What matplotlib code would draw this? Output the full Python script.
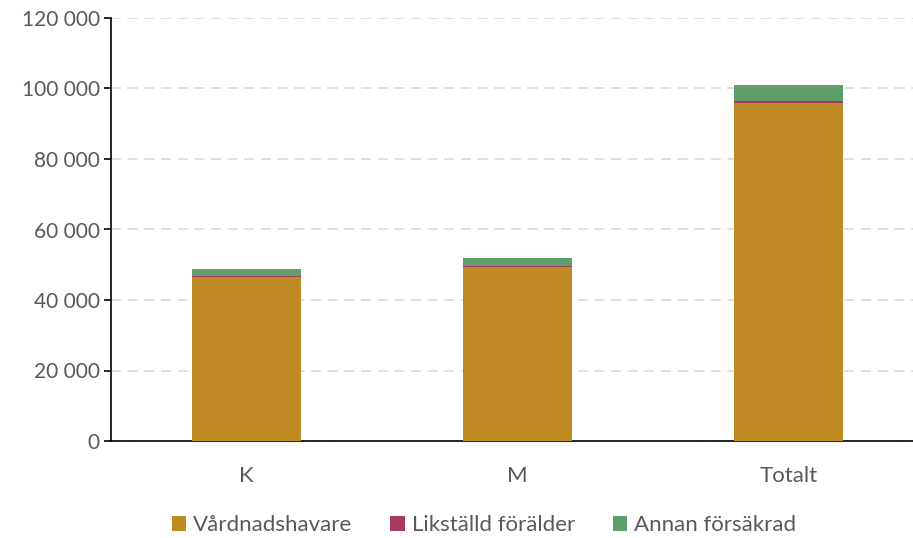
import matplotlib
matplotlib.use("Agg")
import matplotlib.pyplot as plt
from matplotlib.ticker import FuncFormatter

categories = ["K", "M", "Totalt"]
series_names = ["Vårdnadshavare", "Likställd förälder", "Annan försäkrad"]
vardnadshavare = [46600, 49400, 96000]
likstalld = [200, 300, 500]
annan = [2000, 2100, 4400]
colors = ["#BF8A24", "#A8385F", "#5E9E6B"]

plt.rcParams['font.family'] = ['Lato', 'DejaVu Sans']

fig = plt.figure(figsize=(9.13, 5.38), dpi=100)
W, H = 913, 538
ax = fig.add_axes([111 / W, (538 - 441) / H, (913 - 111) / W, (441 - 18) / H])

x = list(range(len(categories)))
bw = 0.4
b1 = ax.bar(x, vardnadshavare, bw, color=colors[0], label=series_names[0], zorder=3)
bottom2 = vardnadshavare
b2 = ax.bar(x, likstalld, bw, bottom=bottom2, color=colors[1], label=series_names[1], zorder=3)
bottom3 = [a + b for a, b in zip(vardnadshavare, likstalld)]
b3 = ax.bar(x, annan, bw, bottom=bottom3, color=colors[2], label=series_names[2], zorder=3)

ax.set_ylim(0, 120000)
ax.set_xlim(-0.5, -0.5 + 802 / 271)
ax.set_yticks(range(0, 120001, 20000))
ax.yaxis.set_major_formatter(FuncFormatter(lambda v, p: f"{int(v):,}".replace(",", " ")))
ax.set_xticks(x)
ax.set_xticklabels(categories)

ax.yaxis.grid(True, color="#D9D9D9", linestyle=(0, (6, 4)), linewidth=1.2, zorder=0)
ax.set_axisbelow(True)
for s in ["top", "right"]:
    ax.spines[s].set_visible(False)
ax.spines["left"].set_color("black")
ax.spines["bottom"].set_color("black")
ax.spines["left"].set_linewidth(1.2)
ax.spines["bottom"].set_linewidth(1.2)

ax.tick_params(axis="y", direction="out", length=5, width=1.2, colors="black",
               labelcolor="#595959", labelsize=15, pad=3)
ax.tick_params(axis="x", length=0, labelcolor="#595959", labelsize=16, pad=18)

leg = fig.legend(handles=[b1, b2, b3], labels=series_names, loc="center",
                 bbox_to_anchor=(484 / W, (538 - 525) / H), ncol=3, frameon=False,
                 fontsize=16, handlelength=0.65, handleheight=0.65,
                 handletextpad=0.32, columnspacing=1.7)
for t in leg.get_texts():
    t.set_color("#595959")

fig.savefig("out.png", dpi=100)
